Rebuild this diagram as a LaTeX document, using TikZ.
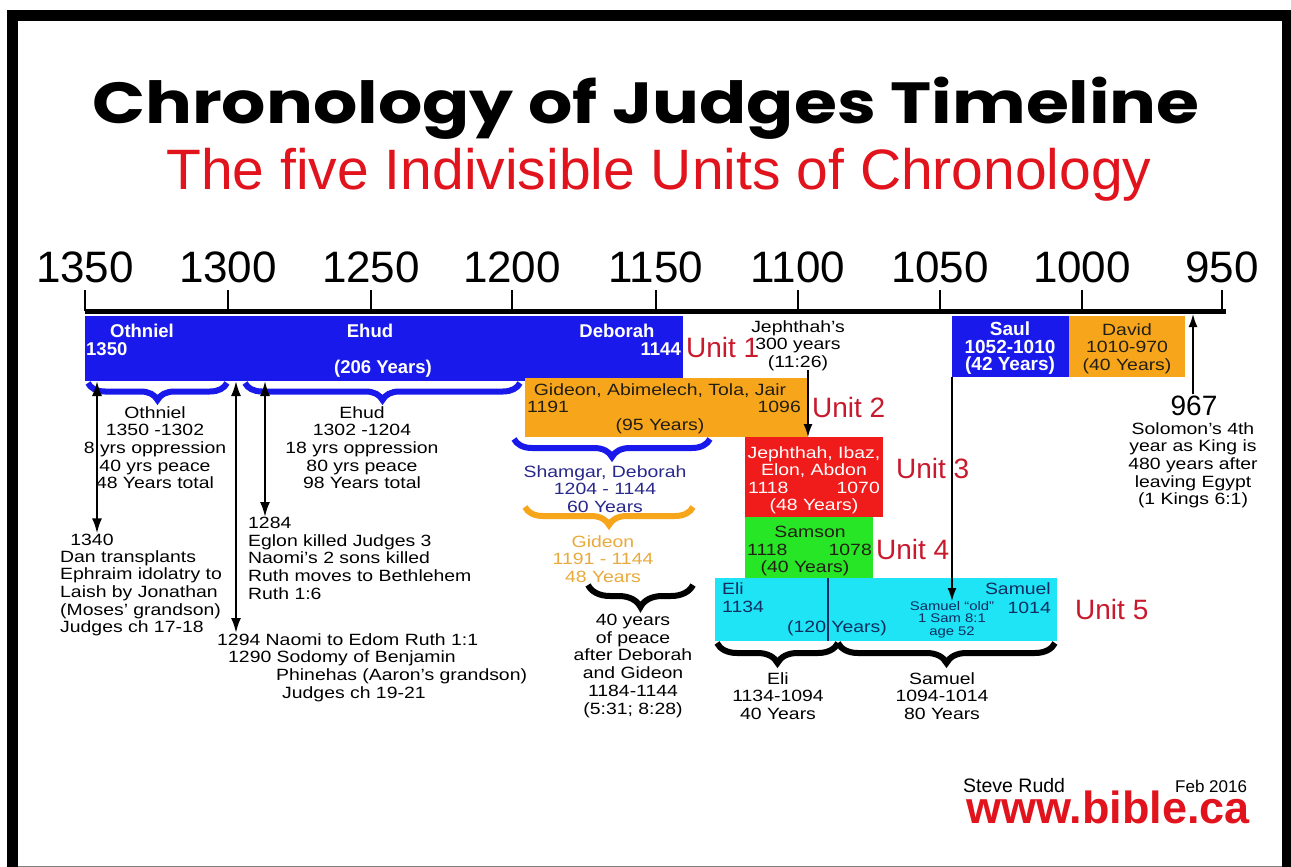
\documentclass[tikz,border=0pt]{standalone}
\usepackage{fontspec}
\setmainfont{Liberation Sans}
\newfontfamily\bodyfont[FakeStretch=1.19]{Liberation Sans}
\newfontfamily\titlefont[FakeStretch=1.2]{Poppins}
\usepackage{tikz}
\usetikzlibrary{arrows.meta,decorations.pathreplacing}
\definecolor{ublue}{RGB}{25,25,235}
\definecolor{uorange}{RGB}{247,166,28}
\definecolor{ured}{RGB}{240,28,28}
\definecolor{ugreen}{RGB}{38,230,38}
\definecolor{ucyan}{RGB}{30,228,245}
\definecolor{unitred}{RGB}{200,25,45}
\definecolor{subred}{RGB}{225,20,30}
\definecolor{navytxt}{RGB}{40,40,140}
\definecolor{tantxt}{RGB}{232,170,60}
\definecolor{cyantxt}{RGB}{15,45,95}
\definecolor{darktxt}{RGB}{35,30,20}
\tikzset{axisline/.style={line width=5pt},
  yeartick/.style={line width=2pt},
  yearlbl/.style={font=\fontsize{44}{44}\selectfont, anchor=base, yshift=8pt, inner sep=0pt},
  box/.style={anchor=north west, inner sep=0pt, outer sep=0pt},
  txt/.style={font=\bodyfont\fontsize{16.3}{17.7}\selectfont, inner sep=0pt},
  btxt/.style={font=\fontsize{18.5}{17.6}\selectfont\bfseries, text=white, inner sep=0pt},
  unitlbl/.style={font=\fontsize{28}{28}\selectfont, text=unitred, anchor=base west, inner sep=0pt},
  arr/.style={line width=1.6pt, -{Latex[length=13pt,width=9pt]}},
  dblarr/.style={line width=2.2pt, {Latex[length=15pt,width=10pt]}-{Latex[length=15pt,width=10pt]}},
  brc/.style={decorate, decoration={brace, mirror, amplitude=#1}, line width=6pt},
  brc/.default=18}

\begin{document}
\begin{tikzpicture}[x=1pt,y=-1pt]
        \useasboundingbox (0,0) rectangle (1291,867);
        % Frame
        \fill[white] (0,0) rectangle (1291,867);
        \fill[black] (7,10) rectangle (1291,867);
        \fill[white] (18,21) rectangle (1282,866);
        \draw[gray, line width=1pt] (18,866) -- (1282,866);
        % Titles
        \node[font=\titlefont\bfseries\fontsize{58}{58}\selectfont, anchor=base] 
        (title) at (646,123) {Chronology of Judges Timeline};
        \node[font=\fontsize{57}{57}\selectfont, text=subred, anchor=base] 
        (subtitle) at (659,189) {The five Indivisible Units of Chronology};
        % Time axis and years
        \coordinate (axis) at (0,314);
        \draw[axisline] (85,311) -- (1226,311);
        \draw[yeartick] (85,311) -- (85,290) node[yearlbl] (y1350) {1350};
        \draw[yeartick] (228,311) -- (228,290) node[yearlbl] (y1300) {1300};
        \draw[yeartick] (371,311) -- (371,290) node[yearlbl] (y1250) {1250};
        \draw[yeartick] (512,311) -- (512,290) node[yearlbl] (y1200) {1200};
        \draw[yeartick] (656,311) -- (656,290) node[yearlbl] (y1150) {1150};
        \draw[yeartick] (798,311) -- (798,290) node[yearlbl] (y1100) {1100};
        \draw[yeartick] (940,311) -- (940,290) node[yearlbl] (y1050) {1050};
        \draw[yeartick] (1082,311) -- (1082,290) node[yearlbl] (y1000) {1000};
        \draw[yeartick] (1222,311) -- (1222,290) node[yearlbl] (y950) {950};
        % The unit boxes
        \node[box, fill=ublue, minimum width=598, minimum height=65] (u1) at (85,316) {};
        \node[box, fill=uorange, minimum width=283, minimum height=59] (u2) at (525,378) {};
        \node[box, fill=ured, minimum width=138, minimum height=80] (u3) at (745,437) {};
        \node[box, fill=ugreen, minimum width=128, minimum height=61] (u4) at (745,517) {};
        \node[box, fill=ucyan, minimum width=342, minimum height=63] (u5) at (715,578) {};
        \node[box, fill=ublue, minimum width=117, minimum height=61] (saul) at (952,316) {};
        \node[box, fill=uorange, minimum width=116, minimum height=61] (david) at (1069,316) {};
        \draw[cyantxt, line width=1.5pt] (828,578) -- (828,641);
        % Braces
        \draw[brc=17, ublue] (88,383) -- (227,383);
        \draw[brc=17, ublue] (245,383) -- (520,383);
        \draw[brc, ublue] (514,439) -- (710,439);
        \draw[brc, uorange] (525,507) -- (693,507);
        \draw[brc=22] (588,585) -- (693,585);
        \draw[brc=20] (717,643) -- (838,643);
        \draw[brc=20] (838,643) -- (1055,643);
        % Unit 1 labels
        \node[btxt, anchor=base] (othn) at (142,337) {Othniel};
        \node[btxt, anchor=base west] (s1350) at (86,355) {1350};
        \node[btxt, anchor=base] (ehud) at (370,337) {Ehud};
        \node[btxt, anchor=base] (y206) at (383,373) {(206 Years)};
        \node[btxt, anchor=base] (debo) at (617,337) {Deborah};
        \node[btxt, anchor=base east] (e1144) at (681,355) {1144};
        \node[unitlbl] (unit1) at (686,357) {Unit 1};
        % Unit 2 labels
        \node[txt, text=darktxt, anchor=base] (gid) at (660,395) {Gideon, Abimelech, Tola, Jair};
        \node[txt, text=darktxt, anchor=base west] (s1191) at (527,412) {1191};
        \node[txt, text=darktxt, anchor=base east] (e1096) at (801,412) {1096};
        \node[txt, text=darktxt, anchor=base] (y95) at (660,430) {(95 Years)};
        \node[unitlbl] (unit2) at (812,417) {Unit 2};
        % Unit 3 labels
        \node[txt, text=white, anchor=base] (jib) at (814,458) {Jephthah, Ibaz,};
        \node[txt, text=white, anchor=base] (eab) at (814,475) {Elon, Abdon};
        \node[txt, text=white, anchor=base west] (s1118a) at (748,493) {1118};
        \node[txt, text=white, anchor=base east] (e1070) at (880,493) {1070};
        \node[txt, text=white, anchor=base] (y48) at (814,510) {(48 Years)};
        \node[unitlbl] (unit3) at (896,478) {Unit 3};
        % Unit 4 labels
        \node[txt, text=darktxt, anchor=base] (sams) at (810,537) {Samson};
        \node[txt, text=darktxt, anchor=base west] (s1118b) at (747,555) {1118};
        \node[txt, text=darktxt, anchor=base east] (e1078) at (872,555) {1078};
        \node[txt, text=darktxt, anchor=base] (y40) at (805,572) {(40 Years)};
        \node[unitlbl] (unit4) at (876,559) {Unit 4};
        % Unit 5 labels
        \node[txt, text=cyantxt, anchor=base west] (eli) at (722,594) {Eli};
        \node[txt, text=cyantxt, anchor=base west] (s1134) at (722,612) {1134};
        \node[txt, text=cyantxt, anchor=base] (y120) at (837,632) {(120 Years)};
        \node[txt, text=cyantxt, anchor=base east] (samu) at (1051,594) {Samuel};
        \node[txt, text=cyantxt, anchor=base east] (e1014) at (1051,613) {1014};
        \node[txt, text=cyantxt, font=\bodyfont\fontsize{12.5}{12.5}\selectfont, align=center, 
        anchor=north] (samold) at (952,601) {Samuel “old”\\1 Sam 8:1\\age 52};
        \node[unitlbl] (unit5) at (1075,619) {Unit 5};
        % Saul and David
        \node[btxt, font=\fontsize{19}{17.5}\selectfont\bfseries, align=center, anchor=north] 
        (saultxt) at (1010,322) {Saul\\1052-1010\\(42 Years)};
        \node[txt, text=darktxt, align=center, anchor=north] 
        (davidtxt) at (1127,323) {David\\1010-970\\(40 Years)};
        % Notes under the boxes
        \node[txt, align=center, anchor=north] (jeph) at (798,320) 
        {Jephthah’s\\300 years\\(11:26)};
        \node[txt, text=navytxt, align=center, anchor=north] (shamg) at (605,465) 
        {Shamgar, Deborah\\1204 - 1144\\60 Years};
        \node[txt, text=tantxt, align=center, anchor=north] (gideon) at (603,535) 
        {Gideon\\1191 - 1144\\48 Years};
        \node[txt, align=center, anchor=north] (peace) at (633,614) 
        {40 years\\of peace\\after Deborah\\and Gideon\\1184-1144\\(5:31; 8:28)};
        \node[txt, align=center, anchor=north] (elinote) at (778,672) 
        {Eli\\1134-1094\\40 Years};
        \node[txt, align=center, anchor=north] (samnote) at (942,672) 
        {Samuel\\1094-1014\\80 Years};
        \node[txt, align=center, anchor=north] (othnote) at (155,406) 
        {Othniel\\1350 -1302\\8 yrs oppression\\40 yrs peace\\48 Years total};
        \node[txt, align=center, anchor=north] (ehudnote) at (362,406) 
        {Ehud\\1302 -1204\\18 yrs oppression\\80 yrs peace\\98 Years total};
        \node[txt, anchor=base] (t1340) at (92,545) {1340};
        \node[txt, align=left, anchor=north west] (dan) at (60,550) 
        {Dan transplants\\Ephraim idolatry to\\Laish by Jonathan\\(Moses’ grandson)\\Judges ch 17-18};
        \node[txt, align=left, anchor=north west] (t1284) at (248,517) 
        {1284\\Eglon killed Judges 3\\Naomi’s 2 sons killed\\Ruth moves to Bethlehem\\Ruth 1:6};
        \node[txt, align=left, anchor=north west] (t1294) at (217,633) 
        {1294 Naomi to Edom Ruth 1:1\\\hspace*{11pt}1290 Sodomy of Benjamin\\
        \hspace*{59pt}Phinehas (Aaron’s grandson)\\\hspace*{65pt}Judges ch 19-21};
        \node[font=\fontsize{28}{28}\selectfont, anchor=base, inner sep=0pt] (n967) at (1194,415) {967};
        \node[txt, align=center, anchor=north] (solo) at (1193,422) 
        {Solomon’s 4th\\year as King is\\480 years after\\leaving Egypt\\(1 Kings 6:1)};
        % Arrows
        \coordinate (a1) at (97,381);
        \coordinate (a2) at (236,381);
        \coordinate (a3) at (265,381);
        \draw[dblarr] (a1) -- (a1 |- t1340.north);
        \draw[dblarr] (a2) -- (a2 |- t1294.north);
        \draw[dblarr] (a3) -- (a3 |- t1284.north);
        \coordinate (j1) at (808,370);
        \draw[arr] (j1) -- (j1 |- u3.north);
        \draw[arr] (saul.south west) -- (saul.south west |- samold.north);
        \coordinate (s967) at (1193,394);
        \draw[arr] (s967) -- (s967 |- axis);
        % Signature
        \node[font=\fontsize{19.5}{19.5}\selectfont, anchor=base west, inner sep=0pt] 
        (steve) at (963,792) {Steve Rudd};
        \node[font=\fontsize{17}{17}\selectfont, anchor=base west, inner sep=0pt] 
        (feb) at (1175,792) {Feb 2016};
        \node[font=\fontsize{45}{45}\selectfont\bfseries, text=subred, anchor=base west, 
        inner sep=0pt] (www) at (966,823) {www.bible.ca};
    \end{tikzpicture}
\end{document}
